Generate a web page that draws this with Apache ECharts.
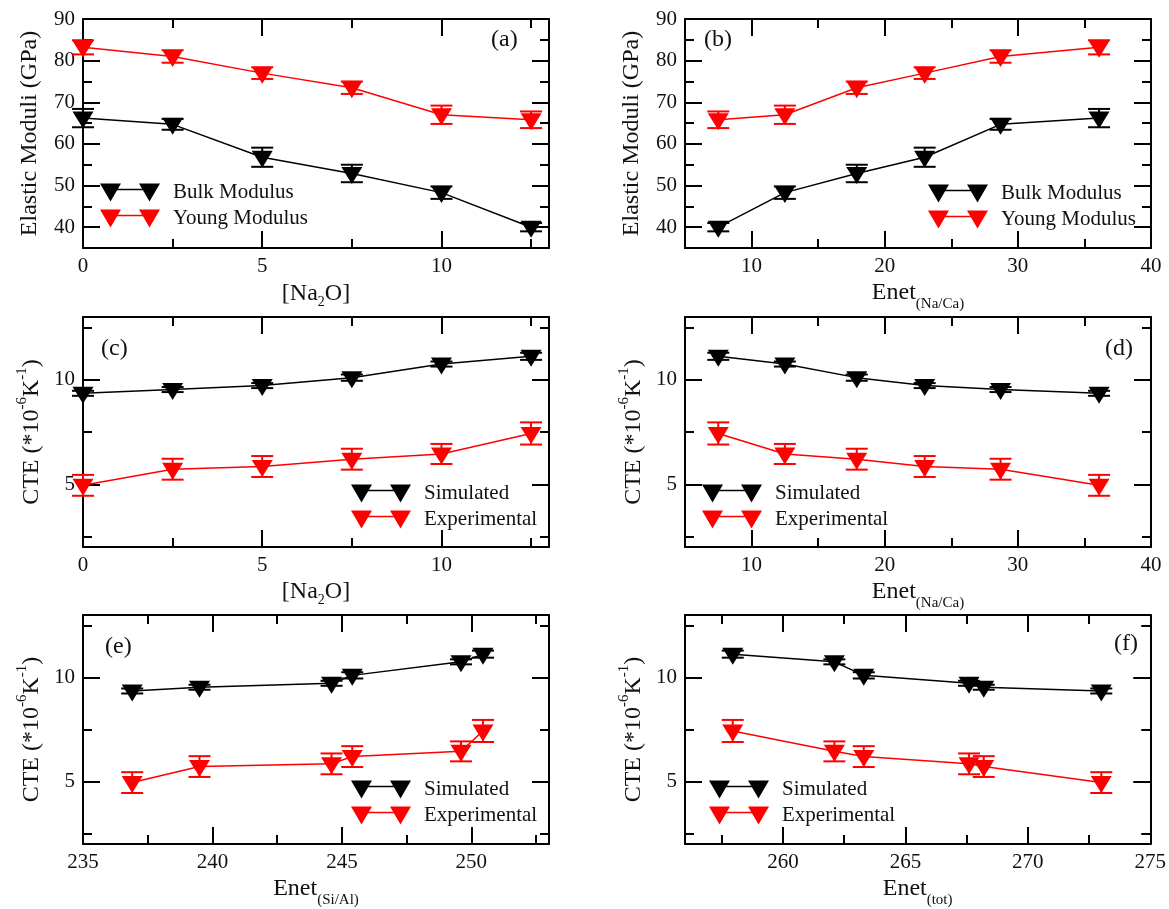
<!DOCTYPE html>
<html>
<head>
<meta charset="utf-8">
<script src="https://cdn.jsdelivr.net/npm/echarts@6/dist/echarts.min.js"></script>
<style>
  html, body { margin: 0; padding: 0; background: #fff; }
  #chart { width: 1169px; height: 909px; }
</style>
</head>
<body>
<div id="chart"></div>
<script>
// Glass compositions: Na2O content and the corresponding energy terms
const na2o = [0, 2.5, 5, 7.5, 10, 12.5];
const enetNaCa = [36.1, 28.7, 23.0, 17.9, 12.5, 7.5];
const enetSiAl = [236.9, 239.5, 244.6, 245.4, 249.6, 250.45];
const enetTot = [273.0, 268.2, 267.6, 263.3, 262.1, 257.95];

// Elastic moduli (GPa) with uncertainties
const bulkModulus = [66.2, 64.7, 56.8, 52.9, 48.3, 40.0];
const bulkErr = [2.2, 1.3, 2.3, 2.1, 1.5, 1.0];
const youngModulus = [83.2, 81.0, 77.0, 73.5, 67.0, 65.8];
const youngErr = [1.7, 1.5, 1.4, 1.5, 2.2, 2.0];

// Thermal expansion coefficient (1e-6 / K) with uncertainties
const cteSimulated = [9.35, 9.53, 9.72, 10.1, 10.75, 11.12];
const cteSimErr = [0.12, 0.12, 0.12, 0.15, 0.12, 0.17];
const cteExperimental = [4.95, 5.72, 5.85, 6.2, 6.45, 7.43];
const cteExpErr = [0.5, 0.5, 0.5, 0.5, 0.48, 0.53];

// Tick values
const na2oMajor = [0, 5, 10];
const na2oMinor = [2.5, 7.5, 12.5];
const naCaMajor = [10, 20, 30, 40];
const naCaMinor = [15, 25, 35];
const siAlMajor = [235, 240, 245, 250];
const siAlMinor = [237.5, 242.5, 247.5, 252.5];
const totMajor = [260, 265, 270, 275];
const totMinor = [257.5, 262.5, 267.5, 272.5];
const modMajor = [40, 50, 60, 70, 80, 90];
const modMinor = [45, 55, 65, 75, 85];
const cteMajor = [5, 10];
const cteMinor = [2.5, 7.5, 12.5];

const FONT = '"Liberation Serif", "Times New Roman", Times, serif';
const INK = '#000';
const TXT = '#111';
const RED = '#ff0000';

// downward triangle marker and the "marker-line-marker" legend glyph
const TRI = 'path://M0,0 L20,0 L10,17 Z';
const LEGEND_ICON = 'path://M0,0 L21,0 L10.5,18 Z M39,0 L60,0 L49.5,18 Z M10.5,5.3 L49.5,5.3 L49.5,6.8 L10.5,6.8 Z';

const rich = {
  t: { fontSize: 24, fontFamily: FONT, color: TXT },
  s2: { fontSize: 14, fontFamily: FONT, color: TXT, padding: [17, 0, 0, 0] },
  sub: { fontSize: 15, fontFamily: FONT, color: TXT, padding: [23, 0, 0, 0] },
  sup: { fontSize: 15, fontFamily: FONT, color: TXT, padding: [0, 0, 18, 0] }
};

const grids = [
  { left: 83, top: 19, width: 466, height: 229 },
  { left: 685, top: 19, width: 466, height: 229 },
  { left: 83, top: 317, width: 466, height: 230 },
  { left: 685, top: 317, width: 466, height: 230 },
  { left: 83, top: 615, width: 466, height: 231 },
  { left: 685, top: 615, width: 466, height: 231 }
];

const xAxes = [];
const yAxes = [];
const series = [];
const legends = [];

function tickAxis(g, pos, min, max, vals, len, extra) {
  return Object.assign({
    type: 'value', gridIndex: g, position: pos, min: min, max: max,
    splitLine: { show: false },
    axisLine: { show: false, onZero: false },
    axisTick: { show: true, inside: true, length: len, customValues: vals,
                lineStyle: { color: INK, width: 2 } },
    axisLabel: { show: false }
  }, extra || {});
}

const frameLine = { show: true, onZero: false, lineStyle: { color: INK, width: 2 } };

// boxed frame: labelled bottom/left axes, mirrored ticks on top/right
function addFrame(g, xs, ys) {
  const xi = xAxes.length, yi = yAxes.length;
  xAxes.push(tickAxis(g, 'bottom', xs.min, xs.max, xs.major, 17, {
    axisLine: frameLine,
    axisLabel: { show: true, customValues: xs.major, margin: 8, color: TXT, fontSize: 21, fontFamily: FONT },
    name: xs.name, nameLocation: 'middle', nameGap: xs.gap, nameTextStyle: { rich: rich }
  }));
  xAxes.push(tickAxis(g, 'bottom', xs.min, xs.max, xs.minor, 9));
  xAxes.push(tickAxis(g, 'top', xs.min, xs.max, xs.major, 17, { axisLine: frameLine }));
  xAxes.push(tickAxis(g, 'top', xs.min, xs.max, xs.minor, 9));

  yAxes.push(tickAxis(g, 'left', ys.min, ys.max, ys.major, 17, {
    axisLine: frameLine,
    axisLabel: { show: true, customValues: ys.major, margin: 8, color: TXT, fontSize: 21, fontFamily: FONT },
    name: ys.name, nameLocation: 'middle', nameGap: ys.gap, nameTextStyle: { rich: rich }
  }));
  yAxes.push(tickAxis(g, 'left', ys.min, ys.max, ys.minor, 9));
  yAxes.push(tickAxis(g, 'right', ys.min, ys.max, ys.major, 17, { axisLine: frameLine }));
  yAxes.push(tickAxis(g, 'right', ys.min, ys.max, ys.minor, 9));
  return [xi, yi];
}

function errRender(color) {
  return function (params, api) {
    const x = api.value(0), y = api.value(1), e = api.value(2);
    const hi = api.coord([x, y + e]);
    const lo = api.coord([x, y - e]);
    const hw = 11;
    const style = { stroke: color, lineWidth: 2 };
    return {
      type: 'group',
      children: [
        { type: 'line', shape: { x1: hi[0], y1: hi[1], x2: lo[0], y2: lo[1] }, style: style },
        { type: 'line', shape: { x1: hi[0] - hw, y1: hi[1], x2: hi[0] + hw, y2: hi[1] }, style: style },
        { type: 'line', shape: { x1: lo[0] - hw, y1: lo[1], x2: lo[0] + hw, y2: lo[1] }, style: style }
      ]
    };
  };
}

function addSet(ax, name, color, xs, ys, errs) {
  series.push({
    type: 'custom', name: name + ' error', xAxisIndex: ax[0], yAxisIndex: ax[1],
    renderItem: errRender(color), clip: false, silent: true, z: 2,
    encode: { x: 0, y: 1 },
    data: xs.map(function (x, i) { return [x, ys[i], errs[i]]; })
  });
  series.push({
    type: 'line', name: name, xAxisIndex: ax[0], yAxisIndex: ax[1],
    data: xs.map(function (x, i) { return [x, ys[i]]; }),
    symbol: TRI, symbolSize: [21, 17], symbolOffset: [0, 2], showSymbol: true,
    itemStyle: { color: color }, lineStyle: { color: color, width: 1.5 },
    z: 3, silent: true
  });
}

function addLegend(left, top, names) {
  legends.push({
    left: left, top: top, orient: 'vertical', padding: 0, itemGap: 5,
    itemWidth: 60, itemHeight: 18, selectedMode: false,
    textStyle: { fontSize: 21, fontFamily: FONT, color: TXT, padding: [0, 0, 0, 8] },
    data: names.map(function (n) { return { name: n, icon: LEGEND_ICON }; })
  });
}

const nameNa2o = '{t|[Na}{s2|2}{t|O]}';
const nameNaCa = '{t|Enet}{sub|(Na/Ca)}';
const nameSiAl = '{t|Enet}{sub|(Si/Al)}';
const nameTot = '{t|Enet}{sub|(tot)}';
const nameMod = '{t|Elastic Moduli (GPa)}';
const nameCte = '{t|CTE (*10}{sup|-6}{t|K}{sup|-1}{t|)}';

const modAxis = { min: 35, max: 90, major: modMajor, minor: modMinor, name: nameMod, gap: 41 };
const cteAxis = { min: 2, max: 13, major: cteMajor, minor: cteMinor, name: nameCte, gap: 35 };

// (a) moduli vs Na2O
let ax = addFrame(0, { min: 0, max: 13, major: na2oMajor, minor: na2oMinor, name: nameNa2o, gap: 30 }, modAxis);
addSet(ax, 'Bulk Modulus', INK, na2o, bulkModulus, bulkErr);
addSet(ax, 'Young Modulus', RED, na2o, youngModulus, youngErr);
addLegend(100, 182, ['Bulk Modulus', 'Young Modulus']);

// (b) moduli vs Enet(Na/Ca)
ax = addFrame(1, { min: 5, max: 40, major: naCaMajor, minor: naCaMinor, name: nameNaCa, gap: 26 }, modAxis);
addSet(ax, 'Bulk Modulus', INK, enetNaCa, bulkModulus, bulkErr);
addSet(ax, 'Young Modulus', RED, enetNaCa, youngModulus, youngErr);
addLegend(928, 183, ['Bulk Modulus', 'Young Modulus']);

// (c) CTE vs Na2O
ax = addFrame(2, { min: 0, max: 13, major: na2oMajor, minor: na2oMinor, name: nameNa2o, gap: 29 }, cteAxis);
addSet(ax, 'Simulated', INK, na2o, cteSimulated, cteSimErr);
addSet(ax, 'Experimental', RED, na2o, cteExperimental, cteExpErr);
addLegend(351, 483, ['Simulated', 'Experimental']);

// (d) CTE vs Enet(Na/Ca)
ax = addFrame(3, { min: 5, max: 40, major: naCaMajor, minor: naCaMinor, name: nameNaCa, gap: 26 }, cteAxis);
addSet(ax, 'Simulated', INK, enetNaCa, cteSimulated, cteSimErr);
addSet(ax, 'Experimental', RED, enetNaCa, cteExperimental, cteExpErr);
addLegend(702, 483, ['Simulated', 'Experimental']);

// (e) CTE vs Enet(Si/Al)
ax = addFrame(4, { min: 235, max: 253, major: siAlMajor, minor: siAlMinor, name: nameSiAl, gap: 26 }, cteAxis);
addSet(ax, 'Simulated', INK, enetSiAl, cteSimulated, cteSimErr);
addSet(ax, 'Experimental', RED, enetSiAl, cteExperimental, cteExpErr);
addLegend(351, 779, ['Simulated', 'Experimental']);

// (f) CTE vs Enet(tot)
ax = addFrame(5, { min: 256, max: 275, major: totMajor, minor: totMinor, name: nameTot, gap: 26 }, cteAxis);
addSet(ax, 'Simulated', INK, enetTot, cteSimulated, cteSimErr);
addSet(ax, 'Experimental', RED, enetTot, cteExperimental, cteExpErr);
addLegend(709, 779, ['Simulated', 'Experimental']);

// panel letters
const panelTags = [
  { text: '(a)', x: 491, y: 28 },
  { text: '(b)', x: 704, y: 28 },
  { text: '(c)', x: 101, y: 337 },
  { text: '(d)', x: 1105, y: 337 },
  { text: '(e)', x: 105, y: 635 },
  { text: '(f)', x: 1114, y: 632 }
];

const chart = echarts.init(document.getElementById('chart'), null, { renderer: 'canvas' });
chart.setOption({
  backgroundColor: '#fff',
  animation: false,
  grid: grids,
  xAxis: xAxes,
  yAxis: yAxes,
  legend: legends,
  series: series,
  graphic: panelTags.map(function (p) {
    return {
      type: 'text', left: p.x, top: p.y, silent: true,
      style: { text: p.text, fill: TXT, font: '24px ' + FONT }
    };
  })
});
</script>
</body>
</html>
